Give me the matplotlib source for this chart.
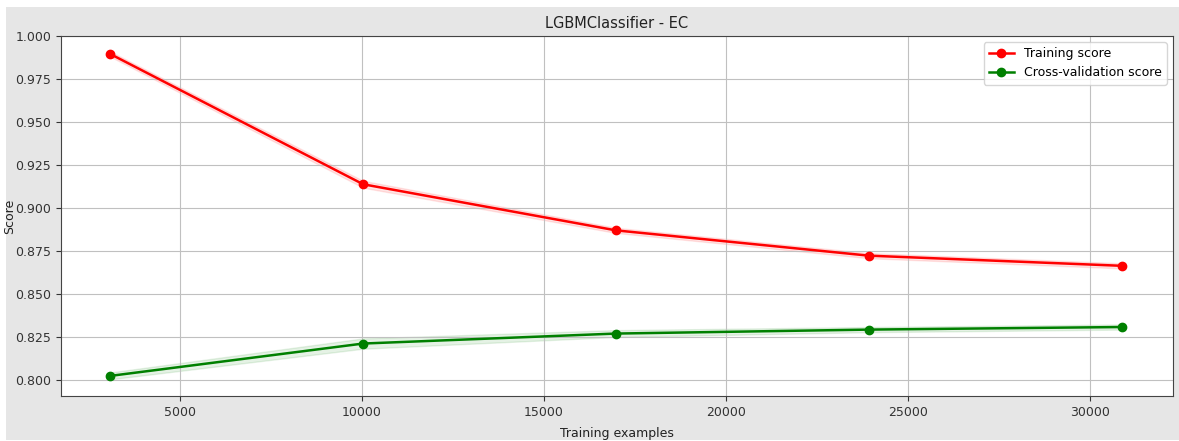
import numpy as np
import matplotlib
matplotlib.use('Agg')
from matplotlib import pyplot as plt
from matplotlib.patches import Rectangle

plt.rcParams['font.family'] = ['DejaVu Sans']

# learning curve values
train_sizes = [3087, 10032, 16977, 23922, 30867]
train_mean = [0.9895, 0.9138, 0.8870, 0.8723, 0.8664]
train_std = [0.0015, 0.0020, 0.0015, 0.0015, 0.0015]
cv_mean = [0.8024, 0.8212, 0.8270, 0.8293, 0.8308]
cv_std = [0.0020, 0.0030, 0.0020, 0.0015, 0.0015]

train_mean = np.array(train_mean)
train_std = np.array(train_std)
cv_mean = np.array(cv_mean)
cv_std = np.array(cv_std)

fig = plt.figure(figsize=(11.79, 4.41), dpi=100, facecolor='white')
# gray panel behind the plot
fig.patches.append(Rectangle((6 / 1179, 1 / 441), 1 - 6 / 1179, 1 - 8 / 441,
                             transform=fig.transFigure, facecolor='#e6e6e6',
                             edgecolor='none', zorder=-1))

ax = fig.add_axes([61 / 1179, 1 - 396 / 441, (1173 - 61) / 1179, (396 - 36) / 441])
ax.set_facecolor('white')

ax.fill_between(train_sizes, train_mean - train_std, train_mean + train_std,
                alpha=0.1, color='r')
ax.fill_between(train_sizes, cv_mean - cv_std, cv_mean + cv_std,
                alpha=0.1, color='g')
ax.plot(train_sizes, train_mean, 'o-', color='r', label='Training score',
        lw=1.8, ms=6)
ax.plot(train_sizes, cv_mean, 'o-', color='g', label='Cross-validation score',
        lw=1.8, ms=6)

ax.set_xlim(1731, 32280)
ax.set_ylim(0.7907, 1.0)
ax.set_xticks([5000, 10000, 15000, 20000, 25000, 30000])
ax.set_yticks(np.arange(0.800, 1.0001, 0.025))
ax.yaxis.set_major_formatter(matplotlib.ticker.FormatStrFormatter('%.3f'))
ax.tick_params(labelsize=9, colors='#333333')
ax.grid(True, color='#c0c0c0', lw=0.8)
for s in ax.spines.values():
    s.set_color('#444444')

ax.set_title('LGBMClassifier - EC', fontsize=10.5, pad=6, color='#222222')
ax.set_xlabel('Training examples', fontsize=9, labelpad=6, color='#222222')
ax.set_ylabel('Score', fontsize=9, color='#222222')
ax.yaxis.set_label_coords(-0.0405, 0.5)
ax.legend(loc='best', fontsize=9)

fig.savefig('out.png', dpi=100, facecolor=fig.get_facecolor())
